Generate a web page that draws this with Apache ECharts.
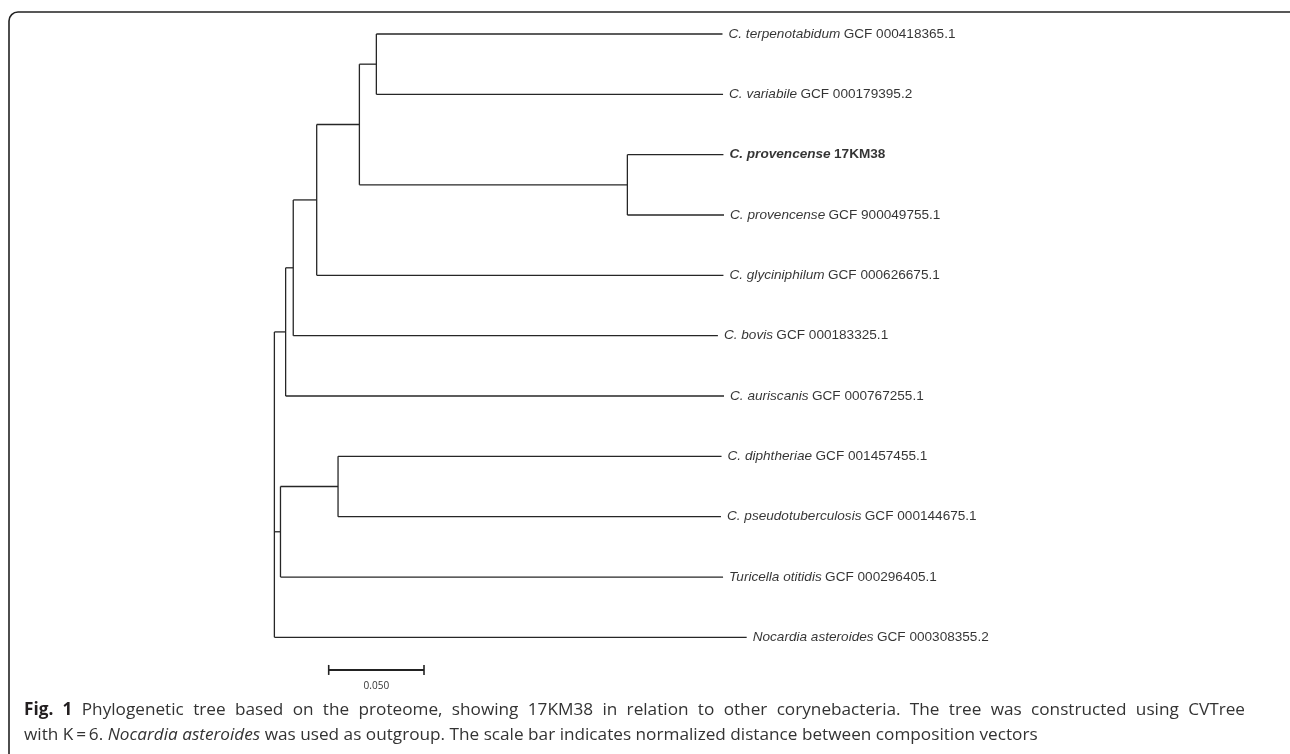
<!DOCTYPE html>
<html><head><meta charset="utf-8">
<script src="https://cdn.jsdelivr.net/npm/echarts@6/dist/echarts.min.js"></script>
<style>html,body{margin:0;padding:0;background:#fff}#c{width:1290px;height:754px}</style>
</head><body><div id="c"></div>
<script>
// ---- tree data ----
const tipSpecies = ['C. terpenotabidum','C. variabile','C. provencense','C. provencense','C. glyciniphilum','C. bovis','C. auriscanis','C. diphtheriae','C. pseudotuberculosis','Turicella otitidis','Nocardia asteroides'];
const tipAccession = ['GCF 000418365.1','GCF 000179395.2','17KM38','GCF 900049755.1','GCF 000626675.1','GCF 000183325.1','GCF 000767255.1','GCF 001457455.1','GCF 000144675.1','GCF 000296405.1','GCF 000308355.2'];
const tipBold = [false,false,true,false,false,false,false,false,false,false,false];
const tipDistance = [0.2353,0.2356,0.2358,0.2361,0.2358,0.2329,0.2361,0.2348,0.2345,0.2356,0.2480];
const nodeIds = ['n5','n6','n4','n3','n2','n1','d1','d2','root'];
const nodeDistance = [0.0537,0.1854,0.0448,0.0224,0.0101,0.0061,0.0336,0.0034,0.0002];
const nodeChildren = [['t0','t1'],['t2','t3'],['n5','n6'],['n4','t4'],['n3','t5'],['n2','t6'],['t7','t8'],['d1','t9'],['n1','d2','t10']];
const scaleBarLength = 0.05;
const scaleBarLabel = '0.050';
const scaleBarStart = 0.0287;
const scaleBarRow = 10.54;
const captionLine1 = 'Fig. 1 Phylogenetic tree based on the proteome, showing 17KM38 in relation to other corynebacteria. The tree was constructed using CVTree';
const captionLine2 = ['with K\u2009=\u20096. ', 'Nocardia asteroides', ' was used as outgroup. The scale bar indicates normalized distance between composition vectors'];

// ---- build geometry in data units ----
const pos = {};
tipDistance.forEach((d, i) => { pos['t' + i] = { x: d, y: i }; });
nodeIds.forEach((id, k) => {
  const ys = nodeChildren[k].map(c => pos[c].y);
  const y0 = Math.min(...ys), y1 = Math.max(...ys);
  pos[id] = { x: nodeDistance[k], y: (y0 + y1) / 2, y0, y1 };
});
const segments = [];
nodeIds.forEach((id, k) => {
  const p = pos[id];
  segments.push([p.x, p.y0, p.x, p.y1]);
  nodeChildren[k].forEach(c => segments.push([p.x, pos[c].y, pos[c].x, pos[c].y]));
});
const tipPoints = tipDistance.map((d, i) => [d, i]);

// ---- justified first caption line (word layout) ----
const CAP_SIZE = 17.2, CAP_LEFT = 24, CAP_RIGHT = 1245, CAP_Y1 = 710, CAP_Y2 = 735;
const ctx = document.createElement('canvas').getContext('2d');
const words = captionLine1.split(' ');
const wordFont = (i) => (i < 2 ? 'bold ' : '') + CAP_SIZE + 'px "Open Sans"';
const widths = words.map((w, i) => { ctx.font = wordFont(i); return ctx.measureText(w).width; });
const gap = (CAP_RIGHT - CAP_LEFT - widths.reduce((a, b) => a + b, 0)) / (words.length - 1);
const captionGraphics = [];
let cx = CAP_LEFT;
words.forEach((w, i) => {
  captionGraphics.push({ type: 'text', x: cx, y: CAP_Y1, style: {
    text: w, font: wordFont(i), fill: i < 2 ? '#231f20' : '#333', verticalAlign: 'middle' } });
  cx += widths[i] + gap;
});
captionGraphics.push({ type: 'text', x: CAP_LEFT, y: CAP_Y2, style: {
  text: '{r|' + captionLine2[0] + '}{i|' + captionLine2[1] + '}{r|' + captionLine2[2] + '}',
  verticalAlign: 'middle',
  rich: {
    i: { fontFamily: 'Open Sans', fontSize: CAP_SIZE, fontStyle: 'italic', fill: '#333' },
    r: { fontFamily: 'Open Sans', fontSize: CAP_SIZE, fill: '#333' }
  } } });

const LINE = '#262626';
const chart = echarts.init(document.getElementById('c'), null, { renderer: 'canvas' });
chart.setOption({
  animation: false,
  backgroundColor: '#fff',
  grid: { left: 274, top: 34, width: 953, height: 663.7 },
  xAxis: { type: 'value', min: 0, max: 0.5, show: false },
  yAxis: { type: 'value', min: 0, max: 11, inverse: true, show: false },
  graphic: [
    { type: 'rect', shape: { x: 9, y: 12, width: 1290, height: 760, r: [9, 9, 0, 0] },
      style: { fill: 'none', stroke: '#222', lineWidth: 1.6 }, z: 10 }
  ].concat(captionGraphics),
  series: [
    {
      type: 'custom', clip: false, silent: true,
      data: segments,
      renderItem: function (params, api) {
        const a = api.coord([api.value(0), api.value(1)]);
        const b = api.coord([api.value(2), api.value(3)]);
        return { type: 'line', shape: { x1: a[0], y1: a[1], x2: b[0], y2: b[1] },
          style: { stroke: LINE, lineWidth: 1.3 } };
      }
    },
    {
      type: 'scatter', symbolSize: 0, silent: true,
      data: tipPoints,
      label: {
        show: true, position: 'right', distance: 6,
        formatter: function (p) {
          const i = p.dataIndex;
          return tipBold[i]
            ? '{bi|' + tipSpecies[i] + '} {b|' + tipAccession[i] + '}'
            : '{i|' + tipSpecies[i] + '} {r|' + tipAccession[i] + '}';
        },
        rich: {
          i: { fontFamily: 'Liberation Sans', fontSize: 13.6, fontStyle: 'italic', color: '#000' },
          r: { fontFamily: 'Liberation Sans', fontSize: 13.6, color: '#000' },
          bi: { fontFamily: 'Liberation Sans', fontSize: 13.6, fontStyle: 'italic', fontWeight: 'bold', color: '#000' },
          b: { fontFamily: 'Liberation Sans', fontSize: 13.6, fontWeight: 'bold', color: '#000' }
        }
      }
    },
    {
      type: 'custom', clip: false, silent: true,
      data: [[scaleBarStart, scaleBarRow, scaleBarLength]],
      renderItem: function (params, api) {
        const a = api.coord([api.value(0), api.value(1)]);
        const b = api.coord([api.value(0) + api.value(2), api.value(1)]);
        return { type: 'group', children: [
          { type: 'line', shape: { x1: a[0], y1: a[1], x2: b[0], y2: b[1] }, style: { stroke: '#222', lineWidth: 2 } },
          { type: 'line', shape: { x1: a[0], y1: a[1] - 5, x2: a[0], y2: a[1] + 5 }, style: { stroke: '#222', lineWidth: 1.6 } },
          { type: 'line', shape: { x1: b[0], y1: b[1] - 5, x2: b[0], y2: b[1] + 5 }, style: { stroke: '#222', lineWidth: 1.6 } },
          { type: 'text', x: (a[0] + b[0]) / 2, y: a[1] + 16, style: { text: scaleBarLabel, align: 'center', verticalAlign: 'middle', font: '10px "Open Sans"', fill: '#333' } }
        ] };
      }
    }
  ]
});
</script></body></html>
